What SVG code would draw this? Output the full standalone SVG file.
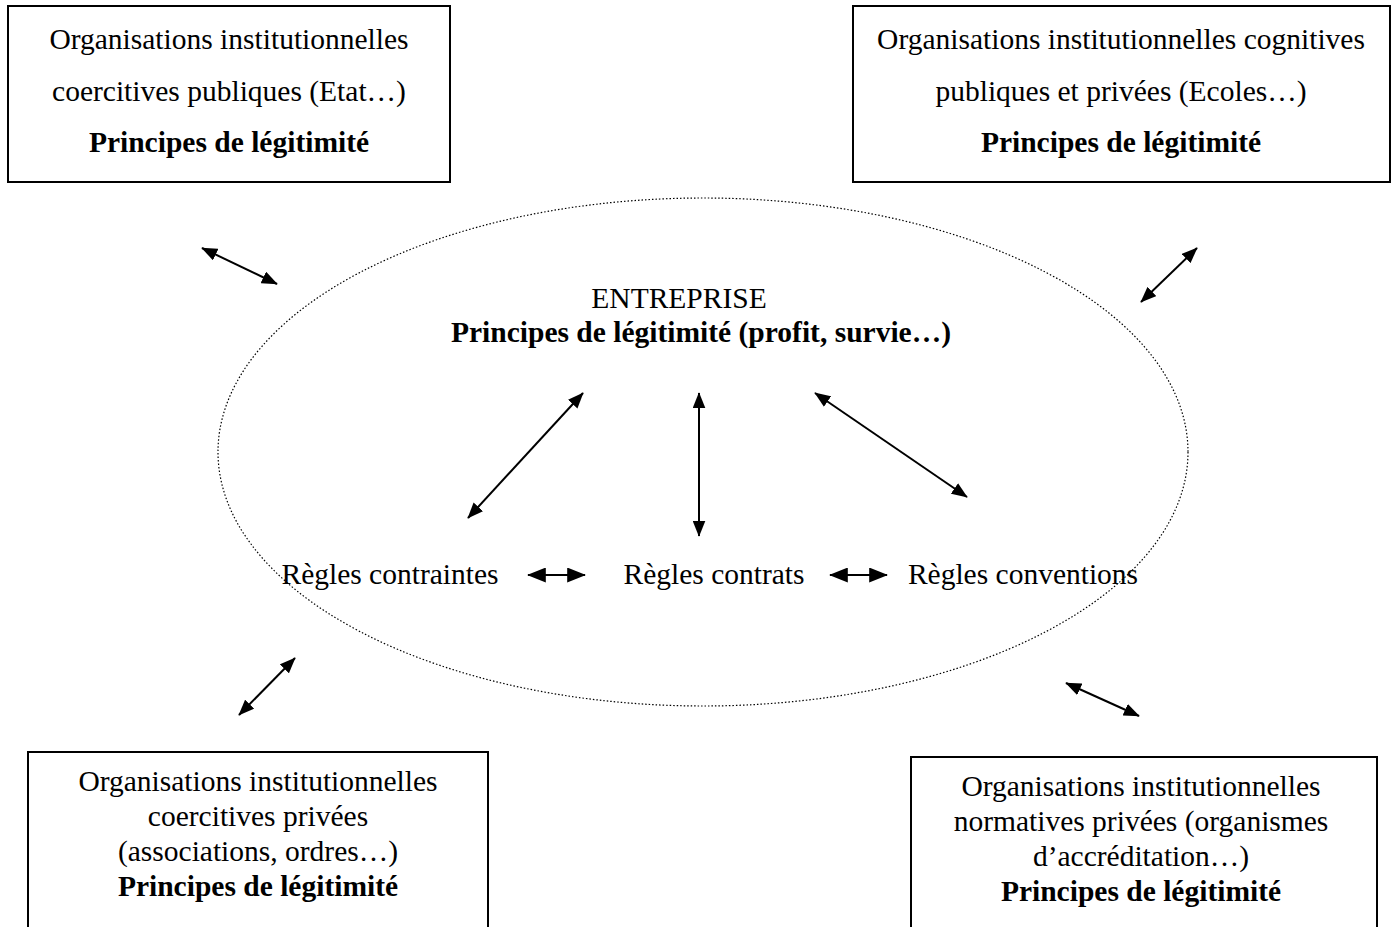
<svg xmlns="http://www.w3.org/2000/svg" width="1394" height="927" viewBox="0 0 1394 927">
<style>
.box{fill:#fff;stroke:#000;stroke-width:2}
text{font-family:"Liberation Serif","Times New Roman",serif;font-size:29.5px;fill:#000;text-anchor:middle}
.b{font-weight:bold}
.c line{stroke:#000;stroke-width:2}
</style>
<defs>
<marker id="ah" viewBox="0 0 10 8" refX="9.5" refY="4" markerWidth="16" markerHeight="13" markerUnits="userSpaceOnUse" orient="auto-start-reverse">
<path d="M0,0 L10,4 L0,8 z" fill="#000"/>
</marker>
<marker id="ahb" viewBox="0 0 10 8" refX="9.5" refY="4" markerWidth="19" markerHeight="15" markerUnits="userSpaceOnUse" orient="auto-start-reverse">
<path d="M0,0 L10,4 L0,8 z" fill="#000"/>
</marker>
</defs>
<rect width="1394" height="927" fill="#fff"/>
<g id="entreprise">
<ellipse cx="703" cy="452" rx="485" ry="254" fill="none" stroke="#000" stroke-width="1.2" stroke-dasharray="1.5 2"/>
<text x="679" y="308">ENTREPRISE</text>
<text x="701" y="342" class="b">Principes de légitimité (profit, survie…)</text>
</g>
<g id="regles-contraintes"><text x="390" y="584">Règles contraintes</text></g>
<g id="regles-contrats"><text x="714" y="584">Règles contrats</text></g>
<g id="regles-conventions"><text x="1023" y="584">Règles conventions</text></g>
<g id="box-tl">
<rect class="box" x="8" y="6" width="442" height="176"/>
<text x="229" y="49">Organisations institutionnelles</text>
<text x="229" y="101">coercitives publiques (Etat…)</text>
<text x="229" y="152" class="b">Principes de légitimité</text>
</g>
<g id="box-tr">
<rect class="box" x="853" y="6" width="537" height="176"/>
<text x="1121" y="49">Organisations institutionnelles cognitives</text>
<text x="1121" y="101">publiques et privées (Ecoles…)</text>
<text x="1121" y="152" class="b">Principes de légitimité</text>
</g>
<g id="box-bl">
<rect class="box" x="28" y="752" width="460" height="185"/>
<text x="258" y="791">Organisations institutionnelles</text>
<text x="258" y="826">coercitives privées</text>
<text x="258" y="861">(associations, ordres…)</text>
<text x="258" y="896" class="b">Principes de légitimité</text>
</g>
<g id="box-br">
<rect class="box" x="911" y="757" width="466" height="180"/>
<text x="1141" y="796">Organisations institutionnelles</text>
<text x="1141" y="831">normatives privées (organismes</text>
<text x="1141" y="866">d’accréditation…)</text>
<text x="1141" y="901" class="b">Principes de légitimité</text>
</g>
<g class="c" id="connectors">
<line x1="202" y1="248" x2="277" y2="284" marker-start="url(#ah)" marker-end="url(#ah)"/>
<line x1="1197" y1="248" x2="1141" y2="302" marker-start="url(#ah)" marker-end="url(#ah)"/>
<line x1="583" y1="393" x2="468" y2="518" marker-start="url(#ah)" marker-end="url(#ah)"/>
<line x1="699" y1="393" x2="699" y2="536" marker-start="url(#ah)" marker-end="url(#ah)"/>
<line x1="815" y1="393" x2="967" y2="497" marker-start="url(#ah)" marker-end="url(#ah)"/>
<line x1="528" y1="575" x2="585" y2="575" marker-start="url(#ahb)" marker-end="url(#ahb)"/>
<line x1="830" y1="575" x2="887" y2="575" marker-start="url(#ahb)" marker-end="url(#ahb)"/>
<line x1="295" y1="658" x2="239" y2="715" marker-start="url(#ah)" marker-end="url(#ah)"/>
<line x1="1066" y1="683" x2="1139" y2="716" marker-start="url(#ah)" marker-end="url(#ah)"/>
</g>
</svg>
